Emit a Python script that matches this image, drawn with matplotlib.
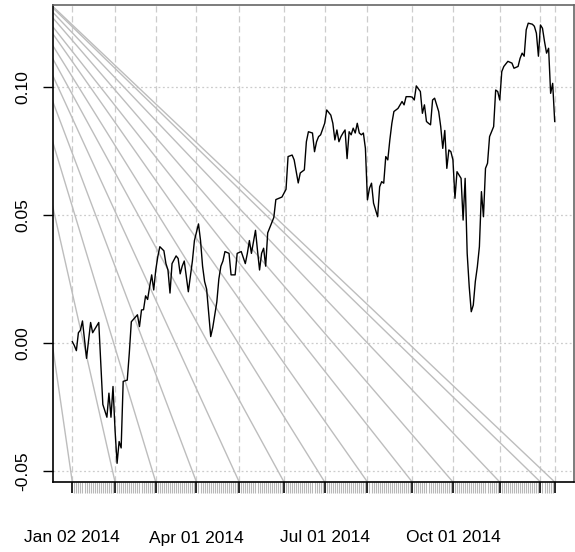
import matplotlib
matplotlib.use("Agg")
import matplotlib.pyplot as plt
from matplotlib.transforms import blended_transform_factory

plt.rcParams['font.family'] = ['Liberation Sans', 'DejaVu Sans']

# trading-day index (0 = Jan 02 2014, 237 = last obs) and cumulative return
day_idx = [0, 1, 2, 3, 4, 5, 7, 9, 10, 13, 15, 17, 18, 19, 20, 21, 22, 23, 24, 25,
           27, 28, 29, 32, 33, 34, 35, 36, 37, 38, 39, 40, 41, 42, 43, 45, 46, 47, 48, 49,
           51, 52, 53, 54, 55, 56, 57, 59, 60, 62, 63, 64, 65, 66, 68, 69, 71, 72, 73, 74,
           75, 77, 78, 80, 81, 83, 85, 86, 87, 88, 90, 91, 92, 93, 94, 95, 96, 97, 99, 100,
           103, 105, 106, 108, 109, 111, 112, 114, 115, 116, 118, 119, 120, 121, 122, 124,
           125, 127, 128, 129, 130, 131, 132, 133, 134, 135, 136, 137, 138, 139, 140, 141,
           142, 143, 144, 145, 146, 147, 148, 150, 151, 152, 153, 154, 155, 156, 157, 158,
           160, 162, 163, 164, 166, 167, 168, 169, 171, 172, 173, 174, 175, 176, 177, 178,
           180, 181, 182, 183, 184, 185, 186, 187, 188, 189, 190, 191, 192, 193, 194, 195,
           196, 197, 198, 199, 200, 201, 202, 203, 204, 205, 207, 208, 209, 210, 211, 212,
           214, 216, 217, 219, 220, 221, 222, 223, 224, 226, 227, 228, 229, 230, 231, 232,
           233, 234, 235, 236, 237]
cum_ret = [0.0005, -0.001, -0.003, 0.004, 0.005, 0.0086, -0.006, 0.008, 0.004, 0.008,
           -0.024, -0.029, -0.0196, -0.029, -0.017, -0.034, -0.047, -0.0385, -0.041, -0.015,
           -0.0145, -0.004, 0.0083, 0.011, 0.0064, 0.0129, 0.013, 0.0184, 0.017, 0.022,
           0.0266, 0.0207, 0.0285, 0.0337, 0.0376, 0.036, 0.031, 0.0285, 0.0195, 0.031,
           0.034, 0.033, 0.027, 0.030, 0.032, 0.026, 0.020, 0.032, 0.040, 0.0465,
           0.040, 0.030, 0.024, 0.021, 0.0025, 0.006, 0.016, 0.025, 0.030, 0.032,
           0.0357, 0.035, 0.0266, 0.0266, 0.035, 0.0357, 0.031, 0.035, 0.040, 0.035,
           0.044, 0.036, 0.0285, 0.035, 0.037, 0.030, 0.043, 0.045, 0.049, 0.056,
           0.057, 0.060, 0.0728, 0.0734, 0.0715, 0.0625, 0.0664, 0.0676, 0.0786, 0.0825,
           0.082, 0.0747, 0.0786, 0.0806, 0.0813, 0.0858,
           0.091, 0.089, 0.0858, 0.0793, 0.0832, 0.0786, 0.0806, 0.082, 0.0832, 0.072,
           0.0825, 0.0813, 0.0839, 0.082, 0.0858, 0.082,
           0.0813, 0.082, 0.076, 0.0559, 0.0604, 0.0624, 0.0546, 0.0493, 0.061, 0.063,
           0.0624, 0.0728, 0.0715, 0.0793, 0.0858, 0.0904,
           0.0916, 0.0943, 0.093, 0.0962, 0.0962, 0.096, 0.0949, 0.1004, 0.0982, 0.0897,
           0.093, 0.0865, 0.0858, 0.0852, 0.0949, 0.0956,
           0.0904, 0.0845, 0.076, 0.083, 0.0682, 0.0754, 0.0747, 0.0715, 0.0565, 0.0669,
           0.0656, 0.0643, 0.048, 0.0643, 0.035, 0.022,
           0.0122, 0.0148, 0.024, 0.0298, 0.0376, 0.0591, 0.0493, 0.0682, 0.0702, 0.0806,
           0.0845, 0.0988, 0.0982, 0.0949, 0.106, 0.108,
           0.110, 0.1093, 0.1073, 0.108, 0.1112, 0.1132, 0.112, 0.1223, 0.1249, 0.1245,
           0.1237, 0.121, 0.112, 0.1242, 0.1229, 0.1177,
           0.1132, 0.1151, 0.0975, 0.1014, 0.0865]

n_obs = 238
# first trading day of each month (plus last observation)
month_idx = [0, 21, 41, 61, 82, 104, 124, 145, 167, 187, 210, 230, 237]
month_labels = ['Jan 02 2014', '', '', 'Apr 01 2014', '', '', 'Jul 01 2014',
                '', '', 'Oct 01 2014', '', '', '']
# where each grey guide line leaves the top of the plot (index units)
guide_top = [-34, -32, -30, -27.5, -25.5, -24, -22, -19.5, -18, -15, -13, -11, -10.3]

y_ticks = [-0.05, 0.00, 0.05, 0.10]

fig = plt.figure(figsize=(5.75, 5.52), dpi=100)
ax = fig.add_axes([53 / 575, 1 - 482 / 552, 521 / 575, 477 / 552])

pad = 0.04 * (n_obs - 1)
ax.set_xlim(-pad, n_obs - 1 + pad)
ymin, ymax = -0.0543, 0.132
ax.set_ylim(ymin, ymax)

# grid
for m in month_idx:
    ax.axvline(m, color='#cccccc', lw=0.9, ls=(0, (5, 3)), zorder=1)
for yt in y_ticks:
    ax.axhline(yt, color='#cccccc', lw=0.9, ls=(0, (1.5, 2)), zorder=1)

# grey guide lines
for top, bot in zip(guide_top, month_idx):
    ax.plot([top, bot], [ymax, ymin], color='#bdbdbd', lw=1, zorder=2)

ax.plot(day_idx, cum_ret, color='black', lw=1, zorder=3)

# spines
ax.spines['top'].set_color('#666666')
ax.spines['right'].set_color('#666666')
ax.spines['left'].set_color('black')
ax.spines['bottom'].set_color('black')
for s in ax.spines.values():
    s.set_linewidth(1.2)

ax.set_yticks(y_ticks)
ax.set_yticklabels(['%.2f' % v for v in y_ticks], rotation=90, va='center')
ax.tick_params(axis='y', length=7.5, width=1, labelsize=12.5, pad=9)

ax.set_xticks(month_idx)
ax.set_xticklabels([''] * len(month_idx))
ax.set_xticks(list(range(n_obs)), minor=True)
ax.tick_params(axis='x', which='major', length=8, width=1.2, color='black')
ax.tick_params(axis='x', which='minor', length=8, width=0.8, color='#b8b8b8')

tr = blended_transform_factory(ax.transData, fig.transFigure)
for m, lab in zip(month_idx, month_labels):
    if lab:
        ax.text(m, 1 - 538 / 552, lab, transform=tr, ha='center', va='center',
                fontsize=12.5, clip_on=False)

fig.savefig('out.png', dpi=100)
